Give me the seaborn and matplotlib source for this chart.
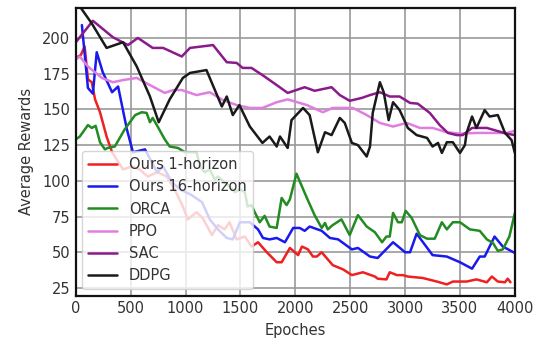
import numpy as np
import pandas as pd
import matplotlib
matplotlib.use("Agg")
import matplotlib.pyplot as plt
import seaborn as sns

# ---- data ----
ours1_x = [0, 45, 80, 110, 145, 175, 220, 280, 330, 430, 510, 580, 655, 740, 830, 900, 975, 1020, 1100, 1155,
           1240, 1295, 1355, 1400, 1465, 1540, 1600, 1660, 1740, 1830, 1875, 1950, 2025, 2060, 2115, 2160, 2195,
           2240, 2340, 2435, 2515, 2615, 2725, 2750, 2830, 2860, 2925, 2980, 3025, 3160, 3290, 3380, 3435, 3560,
           3650, 3745, 3790, 3845, 3910, 3935, 3960]
ours1_y = [186, 188, 194, 171, 169, 157, 148, 131, 120, 108, 110, 108, 103, 106, 103, 94, 82, 73, 78, 74,
           62, 69, 66, 71, 59, 61, 54, 57, 50, 43, 43, 53, 48, 54, 52, 47, 47,
           50, 41, 38, 34, 36, 33, 31.5, 31, 36, 34, 34, 33, 32, 29.5, 27.5, 29.5, 29.5,
           31, 29, 33, 29.5, 29, 31.5, 29]

ours16_x = [55, 110, 155, 190, 245, 330, 385, 465, 520, 630, 740, 795, 875, 950, 1055, 1150, 1220, 1295, 1375,
            1430, 1495, 1585, 1660, 1705, 1765, 1830, 1905, 1980, 2040, 2085, 2130, 2240, 2315, 2390, 2515, 2570,
            2680, 2750, 2890, 3000, 3045, 3105, 3250, 3380, 3500, 3610, 3680, 3725, 3815, 3890, 4000]
ours16_y = [209, 165, 161, 190, 176, 162, 166, 136, 120, 122, 106, 110, 99, 94, 90, 85, 73, 66, 60,
            59, 71, 71, 66, 60, 59, 60, 57, 67, 67, 65, 68, 65, 60, 59, 52, 53,
            47, 46, 57, 50, 50, 63, 48, 47, 43, 38.5, 47, 47, 61, 54, 49.5]

orca_x = [0, 36, 110, 145, 180, 220, 265, 290, 355, 445, 540, 600, 645, 675, 700, 745, 810, 855, 930, 995,
          1100, 1130, 1175, 1220, 1265, 1295, 1355, 1400, 1450, 1495, 1540, 1565, 1600, 1630, 1650, 1675, 1720,
          1765, 1830, 1875, 1920, 1950, 2010, 2105, 2175, 2240, 2270, 2295, 2340, 2420, 2495, 2570, 2650, 2725,
          2790, 2830, 2860, 2890, 2935, 2970, 3005, 3060, 3135, 3200, 3270, 3335, 3380, 3435, 3500, 3590, 3680,
          3745, 3800, 3845, 3890, 3950, 4000]
orca_y = [129, 131, 139, 137, 138.5, 127, 122, 123, 124, 136, 146, 148, 147.5, 141, 144, 138, 129, 124, 123, 120,
          120, 110, 106, 108, 101, 103, 99, 96, 92, 94, 92, 82, 83, 78, 75, 71, 75.5,
          68, 67, 88, 83, 87, 105, 88, 76, 67, 70.5, 66, 69, 73, 62, 76, 68, 64,
          57, 61, 61, 77.5, 71, 71, 79, 74, 62, 59.5, 59.5, 71, 66, 71, 71, 66, 65,
          59, 56.5, 51, 52, 61, 77.5]

ppo_x = [0, 36, 110, 237, 337, 430, 555, 675, 810, 885, 965, 1100, 1220, 1340, 1465, 1585, 1700, 1830, 1930,
         2040, 2105, 2250, 2340, 2525, 2650, 2770, 2890, 3015, 3135, 3250, 3380, 3500, 3650, 3770, 3925, 4000]
ppo_y = [185, 187, 180, 172, 169, 170.5, 172, 167, 161.5, 163.5, 163.5, 160, 162, 156.5, 153, 151, 151, 155, 157,
         154.5, 153, 148, 151, 151, 146, 140.5, 138, 140.5, 137, 137, 134, 133, 133.5, 133.5, 133.5, 135]

sac_x = [0, 155, 337, 475, 565, 700, 795, 965, 1040, 1250, 1375, 1465, 1520, 1600, 1700, 1830, 1930, 2085,
         2175, 2330, 2405, 2495, 2605, 2680, 2770, 2860, 2950, 3045, 3115, 3225, 3315, 3390, 3470, 3525, 3610,
         3745, 3835, 3925, 4000]
sac_y = [197, 212, 200.5, 195, 200, 193, 193, 187, 193, 195, 183, 182.5, 179, 179, 174, 167, 161.5, 165.5,
         163, 165.5, 160, 156, 158, 160, 162, 159, 159, 154.5, 154, 147.5, 139, 133.5, 132, 132, 137,
         137, 135, 133, 132]

ddpg_x = [0, 146, 280, 430, 555, 675, 755, 855, 975, 1040, 1190, 1330, 1375, 1430, 1490, 1585, 1700, 1765,
          1830, 1860, 1930, 1965, 2070, 2130, 2205, 2270, 2330, 2405, 2450, 2515, 2570, 2650, 2680, 2705, 2770,
          2805, 2850, 2890, 2950, 3025, 3105, 3200, 3250, 3300, 3335, 3380, 3435, 3500, 3545, 3560, 3610, 3650,
          3725, 3770, 3845, 3910, 3970, 4000]
ddpg_y = [226, 210, 193, 197, 180, 159, 141, 157, 172, 175.5, 177.5, 152, 159, 146, 153, 138, 126.5, 131,
          124, 131, 123, 142.5, 151, 146, 120, 134, 132, 144, 140.5, 126.5, 125, 117, 124, 147.5, 169,
          162, 142.5, 155, 149.5, 137, 132, 130, 124, 126.5, 119.5, 127, 127, 119.5, 125, 133.5, 145, 137,
          149.5, 145, 146, 133.5, 128.5, 119.5]

labels = ["Ours 1-horizon", "Ours 16-horizon", "ORCA", "PPO", "SAC", "DDPG"]
colors = ["#ee2020", "#1a1aee", "#228b22", "#e07ee0", "#8b1a8b", "#1a1a1a"]
xticks = [0, 500, 1000, 1500, 2000, 2500, 3000, 3500, 4000]
yticks = [25, 50, 75, 100, 125, 150, 175, 200]

series = [(ours1_x, ours1_y), (ours16_x, ours16_y), (orca_x, orca_y),
          (ppo_x, ppo_y), (sac_x, sac_y), (ddpg_x, ddpg_y)]
frames = []
for lab, (xs, ys) in zip(labels, series):
    frames.append(pd.DataFrame({"Epoches": xs, "Average Rewards": ys, "method": lab}))
df = pd.concat(frames, ignore_index=True)

sns.set_style("whitegrid")
plt.rcParams["font.family"] = ["DejaVu Sans"]

fig = plt.figure(figsize=(5.38, 3.44), dpi=100)
ax = fig.add_axes([0.141, 0.14, 0.816, 0.837])

sns.lineplot(data=df, x="Epoches", y="Average Rewards", hue="method",
             hue_order=labels, palette=dict(zip(labels, colors)),
             linewidth=1.8, ax=ax, estimator=None, sort=False)

ax.set_xlim(0, 4000)
ax.set_ylim(19.5, 221)
ax.set_xticks(xticks)
ax.set_yticks(yticks)
ax.grid(True, color="#999999", linewidth=1.2)
for s in ax.spines.values():
    s.set_color("#111111")
    s.set_linewidth(1.6)
ax.tick_params(axis="both", labelsize=10.5, labelcolor="#333333", length=0, pad=4)
ax.set_xlabel("Epoches", fontsize=10.5, color="#333333", labelpad=5)
ax.set_ylabel("Average Rewards", fontsize=10.5, color="#333333", labelpad=6)

leg = ax.legend(loc="lower left", fontsize=10.5, frameon=True, framealpha=0.8,
                handlelength=2.0, borderaxespad=0.45, labelspacing=0.5)
for t in leg.get_texts():
    t.set_color("#333333")

fig.savefig("out.png", dpi=100)
